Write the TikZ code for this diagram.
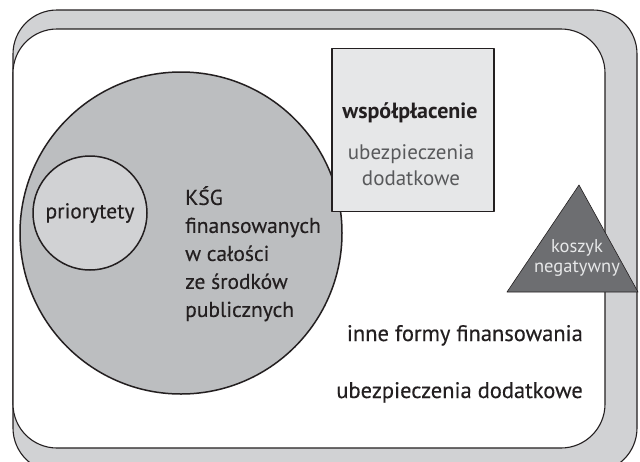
\documentclass[tikz,border=0pt]{standalone}
\usepackage{fontspec}
\setmainfont{PT Sans}
\newfontfamily\inkfont[FakeBold=0.3]{PT Sans}
\usetikzlibrary{positioning}
\definecolor{frgray}{HTML}{D1D2D4}
\definecolor{ksggray}{HTML}{BCBEC0}
\definecolor{boxgray}{HTML}{E6E7E8}
\definecolor{trigray}{HTML}{6D6E71}
\definecolor{ink}{HTML}{231F20}
\definecolor{subink}{HTML}{58595B}

\begin{document}
\begin{tikzpicture}[
    x=1pt, y=-1pt, line join=round,
    frame/.style={draw=ink, line width=1.1pt, rounded corners=44pt},
    disc/.style={circle, draw=ink, line width=1.5pt, inner sep=0pt},
    lbl/.style={text=ink, inner sep=0pt, font=\inkfont\fontsize{22.5}{28}\selectfont}
]
\useasboundingbox (0,0) rectangle (640,461);
\clip (0,0) rectangle (640,461);
% outer frame and white field
\draw[frame, fill=frgray] (13,10) rectangle (637,472);
\draw[frame, fill=white]  (13,29) rectangle (605,448);
% circles
\node[disc, fill=ksggray, minimum size=322pt] (ksg) at (181,233) {};
\node[disc, fill=frgray, minimum size=114pt, lbl,
      font=\inkfont\fontsize{21.5}{28}\selectfont] (prio) at (90,213) {priorytety};
\node[lbl, anchor=north west, align=left, font=\inkfont\fontsize{21.5}{28}\selectfont]
    (ksgtxt) at (185,186) {KŚG\\finansowanych\\w całości\\ze środków\\publicznych};
% co-payment box
\node[draw=ink, line width=1.1pt, fill=boxgray, minimum width=162pt,
      minimum height=163pt, inner sep=0pt] (wsp) at (413,130) {};
\node[lbl, font=\fontsize{22}{28}\bfseries] (wsptxt) at (410,113) {współpłacenie};
\node[lbl, text=subink, font=\fontsize{21}{26}\selectfont, align=center]
    (wspsub) at (411,165) {ubezpieczenia\\dodatkowe};
% negative basket
\coordinate (apex) at (579,185);
\coordinate (bl) at (507,292);
\coordinate (br) at (638,292);
\draw[fill=trigray, draw=ink, line width=0.6pt] (apex) -- (bl) -- (br) -- cycle;
\node[lbl, text=boxgray, font=\fontsize{18.5}{20}\selectfont, align=center]
    (kosz) at (577,258) {koszyk\\negatywny};
% other financing
\node[lbl, anchor=base east] (inne) at (583,341) {inne formy finansowania};
\node[lbl, anchor=base east] (ubez) at (583,398) {ubezpieczenia dodatkowe};
\end{tikzpicture}
\end{document}
